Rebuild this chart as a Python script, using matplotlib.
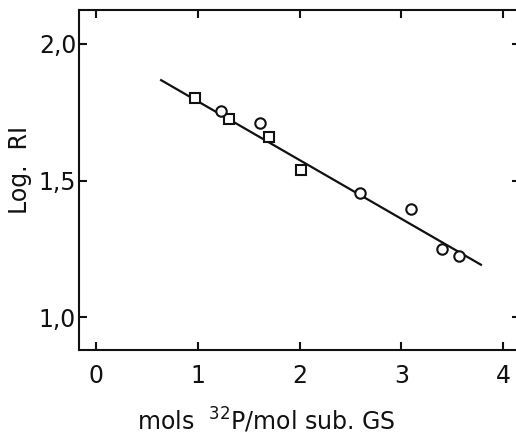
import matplotlib
matplotlib.use('Agg')
import matplotlib.pyplot as plt
from matplotlib.ticker import FuncFormatter

# data
sq_x = [0.97, 1.31, 1.70, 2.01]
sq_y = [1.80, 1.725, 1.66, 1.54]
circ_x = [1.23, 1.61, 2.59, 3.09, 3.40, 3.56]
circ_y = [1.755, 1.71, 1.455, 1.397, 1.25, 1.224]
fit_x = [0.64, 3.78]
fit_y = [1.867, 1.192]

xticks = [0, 1, 2, 3, 4]
yticks = [1.0, 1.5, 2.0]

plt.rcParams['font.family'] = 'DejaVu Sans'
fig = plt.figure(figsize=(5.16, 4.4), dpi=100)
# right spine sits just past the image edge, as in the scan
ax = fig.add_axes([0.153, 0.2045, 0.855, 0.773])

ax.plot(fit_x, fit_y, color='#111111', lw=1.6, zorder=2)
ax.plot(sq_x, sq_y, 's', ms=6.5, mfc='white', mec='#111111', mew=1.5, zorder=3)
ax.plot(circ_x, circ_y, 'o', ms=7.5, mfc='white', mec='#111111', mew=1.5, zorder=3)

ax.set_xlim(-0.167, 4.165)
ax.set_ylim(0.88, 2.124)
ax.set_xticks(xticks)
ax.set_yticks(yticks)
ax.yaxis.set_major_formatter(FuncFormatter(lambda v, p: f'{v:.1f}'.replace('.', ',')))

for s in ax.spines.values():
    s.set_linewidth(1.5)
    s.set_color('#111111')
ax.tick_params(direction='in', length=6, width=1.5, colors='#111111',
               top=True, right=True, labelsize=17)
ax.tick_params(axis='x', pad=10)
ax.tick_params(axis='y', pad=2)

ax.set_xlabel(r'mols  $^{32}$P/mol sub. GS', fontsize=17, color='#111111')
ax.xaxis.set_label_coords(0.425, -0.206)
ax.xaxis.label.set_verticalalignment('center')
ax.set_ylabel('Log.  RI', fontsize=17, color='#111111')
ax.yaxis.set_label_coords(-0.134, 0.53)
ax.yaxis.label.set_verticalalignment('center')

fig.savefig('out.png', dpi=100)
